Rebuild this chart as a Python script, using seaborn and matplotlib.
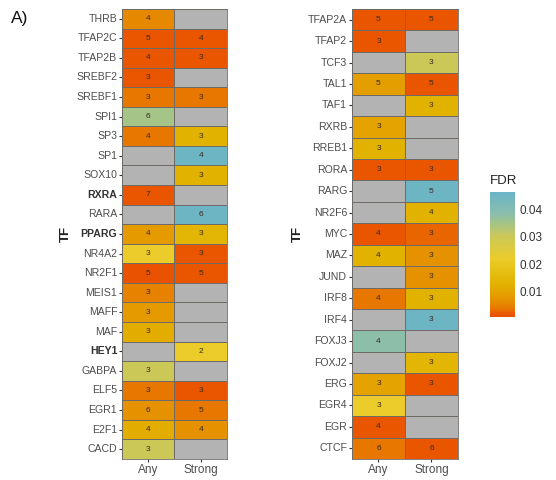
import numpy as np
import pandas as pd
import matplotlib
matplotlib.use("Agg")
import matplotlib.pyplot as plt
from matplotlib.colors import LinearSegmentedColormap, ListedColormap
import seaborn as sns

sns.set_style("white")
plt.rcParams['font.family'] = ['Liberation Sans', 'DejaVu Sans']

# ---- data: left panel ----
tf_left = ["THRB", "TFAP2C", "TFAP2B", "SREBF2", "SREBF1", "SPI1", "SP3", "SP1",
           "SOX10", "RXRA", "RARA", "PPARG", "NR4A2", "NR2F1", "MEIS1", "MAFF",
           "MAF", "HEY1", "GABPA", "ELF5", "EGR1", "E2F1", "CACD"]
any_fdr_left = [0.006, 0.002, 0.002, 0.002, 0.004, 0.035, 0.004, None,
                None, 0.002, None, 0.008, 0.022, 0.0015, 0.005, 0.008,
                0.012, None, 0.030, 0.004, 0.007, 0.012, 0.030]
strong_fdr_left = [None, 0.002, 0.002, None, 0.004, None, 0.013, 0.045,
                   0.013, None, 0.045, 0.014, 0.002, 0.002, None, None,
                   None, 0.022, None, 0.002, 0.004, 0.007, None]
any_n_left = [4, 5, 4, 3, 3, 6, 4, None, None, 7, None, 4, 3, 5, 3, 3,
              3, None, 3, 3, 6, 4, 3]
strong_n_left = [None, 4, 3, None, 3, None, 3, 4, 3, None, 6, 3, 3, 5, None, None,
                 None, 2, None, 3, 5, 4, None]
bold_left = ["RXRA", "PPARG", "HEY1"]

# ---- data: right panel ----
tf_right = ["TFAP2A", "TFAP2", "TCF3", "TAL1", "TAF1", "RXRB", "RREB1", "RORA",
            "RARG", "NR2F6", "MYC", "MAZ", "JUND", "IRF8", "IRF4", "FOXJ3",
            "FOXJ2", "ERG", "EGR4", "EGR", "CTCF"]
any_fdr_right = [0.002, 0.002, None, 0.009, None, 0.010, 0.013, 0.002,
                 None, None, 0.002, 0.013, None, 0.004, None, 0.038,
                 None, 0.010, 0.022, 0.002, 0.004]
strong_fdr_right = [0.002, None, 0.030, 0.002, 0.013, None, None, 0.002,
                    0.045, 0.013, 0.003, 0.007, 0.007, 0.013, 0.045, None,
                    0.014, 0.002, None, None, 0.002]
any_n_right = [5, 3, None, 5, None, 3, 3, 3, None, None, 4, 4, None, 4, None, 4,
               None, 3, 3, 4, 6]
strong_n_right = [5, None, 3, 5, 3, None, None, 3, 5, 4, 3, 3, 3, 3, 3, None,
                  3, 3, None, None, 6]

columns = ["Any", "Strong"]
vmin, vmax = 0.0009, 0.0462

# colour scale (red-orange -> gold -> yellow -> blue)
stops = [(0.0009, "#E94F00"), (0.002, "#EA5600"), (0.004, "#E87800"),
         (0.006, "#E68A00"), (0.008, "#E59A00"), (0.013, "#E2B200"),
         (0.022, "#EBCC2A"), (0.030, "#CCC858"), (0.035, "#A4C488"),
         (0.038, "#8CBEAA"), (0.0462, "#6AB4C8")]
pos = [min(1.0, max(0.0, (v - vmin) / (vmax - vmin))) for v, _ in stops]
pos[0], pos[-1] = 0.0, 1.0
cmap = LinearSegmentedColormap.from_list("fdr", list(zip(pos, [c for _, c in stops])))
gray = ListedColormap(["#B3B3B3"])


def to_frame(tfs, a, s):
    return pd.DataFrame({"Any": [np.nan if v is None else v for v in a],
                         "Strong": [np.nan if v is None else v for v in s]}, index=tfs)


def labels(a, s):
    return np.array([["" if x is None else str(x), "" if y is None else str(y)]
                     for x, y in zip(a, s)])


fig = plt.figure(figsize=(5.56, 4.8), dpi=100)
ax1 = fig.add_axes([0.2194, 0.0438, 0.1888, 0.9375])
ax2 = fig.add_axes([0.6331, 0.0438, 0.1906, 0.9375])
cax = fig.add_axes([0.8813, 0.3396, 0.045, 0.2604])

panels = [
    (ax1, to_frame(tf_left, any_fdr_left, strong_fdr_left), labels(any_n_left, strong_n_left), False),
    (ax2, to_frame(tf_right, any_fdr_right, strong_fdr_right), labels(any_n_right, strong_n_right), True),
]

edge = "#6E6A66"
for ax, df, ann, with_cbar in panels:
    sns.heatmap(np.zeros(df.shape), cmap=gray, cbar=False, ax=ax,
                linewidths=0.6, linecolor=edge)
    sns.heatmap(df, cmap=cmap, vmin=vmin, vmax=vmax, ax=ax,
                annot=ann, fmt="", annot_kws={"size": 6, "color": "#3A2A1E"},
                linewidths=0.6, linecolor=edge,
                cbar=with_cbar, cbar_ax=cax if with_cbar else None)
    ax.set_ylabel("")
    ax.set_xlabel("")
    ax.set_xticklabels(columns, rotation=0, fontsize=8.5, color="#4D4D4D")
    ax.set_yticklabels(df.index, rotation=0, fontsize=7.6, color="#4D4D4D")
    ax.tick_params(axis="both", length=2.5, width=0.8, color="#333333", pad=1,
                   left=True, bottom=True)
    for sp in ax.spines.values():
        sp.set_visible(True)
        sp.set_color(edge)
        sp.set_linewidth(0.6)

for t in ax1.get_yticklabels():
    if t.get_text() in bold_left:
        t.set_fontweight("bold")
        t.set_color("#333333")

fig.text(66 / 556, 1 - 234 / 480, "TF", rotation=90, fontsize=9.5, fontweight="bold",
         ha="center", va="center", color="#222222")
fig.text(298 / 556, 1 - 234 / 480, "TF", rotation=90, fontsize=9.5, fontweight="bold",
         ha="center", va="center", color="#222222")
fig.text(11 / 556, 1 - 18 / 480, "A)", fontsize=12.5, ha="left", va="center", color="#111111")

cbar = ax2.collections[-1].colorbar
cbar.outline.set_visible(False)
cbar.set_ticks([0.01, 0.02, 0.03, 0.04])
cbar.ax.tick_params(direction="in", length=4, width=0.6, colors="#F4F4F4",
                    left=True, right=True, labelsize=8.5, labelcolor="#333333")
fig.text(490 / 556, 1 - 181 / 480, "FDR", fontsize=9.5, ha="left", va="center", color="#222222")

fig.savefig("out.png", dpi=100)
